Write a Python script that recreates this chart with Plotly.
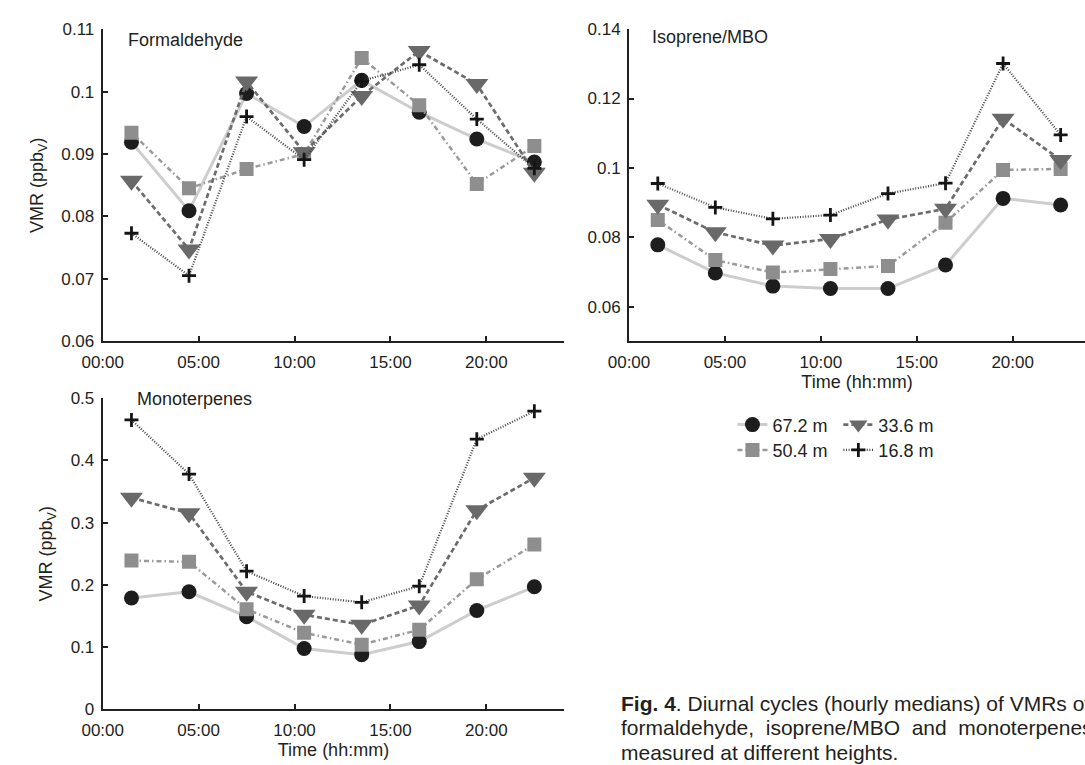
import plotly.graph_objects as go

# Hour-of-day bin centres (hourly medians, 3-hour spacing)
hours = [1.5, 4.5, 7.5, 10.5, 13.5, 16.5, 19.5, 22.5]
heights = ["67.2 m", "50.4 m", "33.6 m", "16.8 m"]

# Formaldehyde VMR (ppbV) at each height
hcho_672 = [0.0919, 0.0809, 0.0997, 0.0944, 0.1018, 0.0967, 0.0924, 0.0887]
hcho_504 = [0.0934, 0.0845, 0.0876, 0.0900, 0.1054, 0.0978, 0.0852, 0.0913]
hcho_336 = [0.0857, 0.0747, 0.1016, 0.0903, 0.0993, 0.1065, 0.1012, 0.0870]
hcho_168 = [0.0773, 0.0705, 0.0960, 0.0891, 0.1017, 0.1043, 0.0956, 0.0877]

# Isoprene/MBO VMR (ppbV)
iso_672 = [0.0778, 0.0697, 0.0659, 0.0652, 0.0652, 0.0720, 0.0912, 0.0893]
iso_504 = [0.0850, 0.0734, 0.0698, 0.0708, 0.0717, 0.0842, 0.0994, 0.0997]
iso_336 = [0.0894, 0.0814, 0.0776, 0.0795, 0.0851, 0.0882, 0.1142, 0.1023]
iso_168 = [0.0955, 0.0886, 0.0853, 0.0864, 0.0926, 0.0956, 0.1301, 0.1095]

# Monoterpenes VMR (ppbV)
mono_672 = [0.179, 0.189, 0.149, 0.098, 0.088, 0.109, 0.159, 0.197]
mono_504 = [0.239, 0.237, 0.161, 0.123, 0.104, 0.128, 0.209, 0.265]
mono_336 = [0.340, 0.315, 0.189, 0.152, 0.136, 0.167, 0.320, 0.372]
mono_168 = [0.465, 0.378, 0.222, 0.182, 0.172, 0.198, 0.434, 0.479]

panel_names = ["Formaldehyde", "Isoprene/MBO", "Monoterpenes"]
hour_ticks = [0, 5, 10, 15, 20]
hour_labels = ["00:00", "05:00", "10:00", "15:00", "20:00"]

hcho_ticks = [0.06, 0.07, 0.08, 0.09, 0.10, 0.11]
hcho_labels = ["0.06", "0.07", "0.08", "0.09", "0.1", "0.11"]
iso_ticks = [0.06, 0.08, 0.10, 0.12, 0.14]
iso_labels = ["0.06", "0.08", "0.1", "0.12", "0.14"]
mono_ticks = [0, 0.1, 0.2, 0.3, 0.4, 0.5]
mono_labels = ["0", "0.1", "0.2", "0.3", "0.4", "0.5"]

panels = [
    [hcho_672, hcho_504, hcho_336, hcho_168],
    [iso_672, iso_504, iso_336, iso_168],
    [mono_672, mono_504, mono_336, mono_168],
]

FONT = "Liberation Sans, Arial, Helvetica, sans-serif"
INK = "#231f20"
W, H = 1085, 765

styles = [
    dict(line=dict(color="#cdcdcd", width=3, dash="solid"),
         marker=dict(symbol="circle", size=15, color="#1d1d1d")),
    dict(line=dict(color="#9a9a9a", width=2.5, dash="5px,3px,1.5px,3px"),
         marker=dict(symbol="square", size=14, color="#8e8e8e")),
    dict(line=dict(color="#6c6c6c", width=2.7, dash="5px,3px"),
         marker=dict(symbol="triangle-down", size=20, color="#696969")),
    dict(line=dict(color="#444444", width=2.2, dash="1px,1.6px"),
         marker=dict(symbol="cross-thin", size=10, color="#151515",
                     line=dict(width=2.8, color="#151515"))),
]

legend_ids = ["legend", "legend2", "legend3", "legend4"]

fig = go.Figure()
axis_ids = [("x", "y"), ("x2", "y2"), ("x3", "y3")]
for p, series in enumerate(panels):
    xa, ya = axis_ids[p]
    for k, vals in enumerate(series):
        st = styles[k]
        fig.add_trace(go.Scatter(
            x=hours, y=vals, mode="lines+markers", name=heights[k],
            line=st["line"], marker=st["marker"],
            xaxis=xa, yaxis=ya,
            showlegend=(p == 0), legend=legend_ids[k],
        ))


def px_x(v):
    return v / W


def px_y(v):
    return 1 - v / H


common_axis = dict(
    showline=True, linecolor=INK, linewidth=2,
    ticks="inside", ticklen=5, tickwidth=2, tickcolor=INK,
    showgrid=False, zeroline=False,
    tickfont=dict(family=FONT, size=17, color=INK),
)

x_common = dict(common_axis, tickvals=hour_ticks, ticktext=hour_labels,
                ticklabelstandoff=4)
y_common = dict(common_axis, ticklabelstandoff=3)

title_font = dict(family=FONT, size=18, color=INK)
ytitle = dict(text="VMR (ppb<sub>V</sub>)", font=title_font, standoff=13)
xtitle = dict(text="Time (hh:mm)", font=title_font, standoff=3)

fig.update_layout(
    width=W, height=H,
    margin=dict(l=0, r=0, t=0, b=0),
    paper_bgcolor="white", plot_bgcolor="white",
    font=dict(family=FONT, color=INK),
    xaxis=dict(x_common, domain=[px_x(83.3), px_x(554)], range=[0, 24.06], anchor="y"),
    yaxis=dict(y_common, domain=[px_y(340.7), px_y(20.7)], range=[0.06, 0.11],
               tickvals=hcho_ticks, ticktext=hcho_labels, anchor="x", title=ytitle),
    xaxis2=dict(x_common, domain=[px_x(620), 1.0], range=[0, 23.77], anchor="y2",
                title=xtitle),
    yaxis2=dict(y_common, domain=[px_y(340.7), px_y(20.7)], range=[0.05, 0.14],
                tickvals=iso_ticks, ticktext=iso_labels, anchor="x2"),
    xaxis3=dict(x_common, domain=[px_x(83.3), px_x(554)], range=[0, 24.06], anchor="y3",
                title=xtitle),
    yaxis3=dict(y_common, domain=[px_y(718.3), px_y(399)], range=[0, 0.5],
                tickvals=mono_ticks, ticktext=mono_labels, anchor="x3", title=ytitle),
)

# Legend laid out as two rows of two entries
legend_pos = [(725.5, 426.5), (725.5, 452.5), (833.5, 426.5), (833.5, 452.5)]
for lid, (lx, ly) in zip(legend_ids, legend_pos):
    fig.update_layout({lid: dict(
        x=px_x(lx), y=px_y(ly), xanchor="left", yanchor="middle",
        orientation="h", bgcolor="rgba(0,0,0,0)", borderwidth=0,
        font=dict(family=FONT, size=18, color=INK),
        tracegroupgap=0, itemclick=False, itemdoubleclick=False,
    )})

# Panel labels
label_pos = [(107, 31.5), (641, 28.5), (116, 400)]
for name, (lx, ly) in zip(panel_names, label_pos):
    fig.add_annotation(text=name, x=px_x(lx), y=px_y(ly), xref="paper", yref="paper",
                       xanchor="left", yanchor="middle", showarrow=False,
                       font=dict(family=FONT, size=18, color=INK))

# Figure caption (justified block, running past the right and bottom edges)
caption_lines = [
    "<b>Fig. 4</b>. Diurnal cycles (hourly medians) of VMRs of",
    "formaldehyde,&nbsp; isoprene/MBO&nbsp; and&nbsp; monoterpenes",
    "measured at different heights.",
]
for i, line in enumerate(caption_lines):
    fig.add_annotation(text=line, x=px_x(610), y=px_y(712 + 25 * i),
                       xref="paper", yref="paper", xanchor="left", yanchor="middle",
                       showarrow=False, align="left",
                       font=dict(family=FONT, size=21, color=INK))

fig.write_html("out.html")
